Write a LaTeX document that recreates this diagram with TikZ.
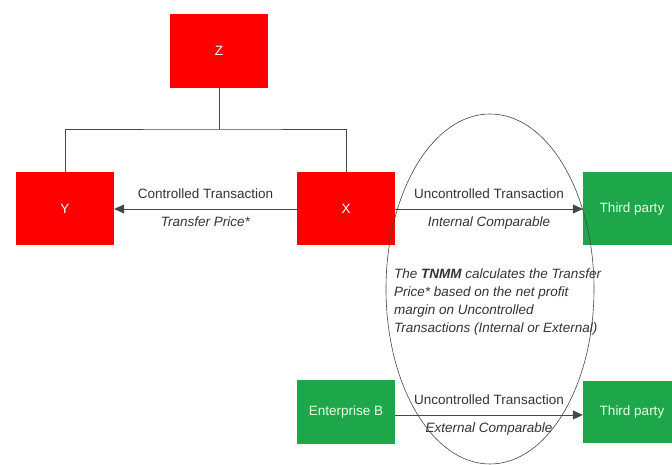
\documentclass[tikz,border=0pt]{standalone}
\usepackage{fontspec}
\setmainfont{Liberation Sans}
\usetikzlibrary{positioning,arrows.meta}
\definecolor{boxred}{RGB}{255,0,0}
\definecolor{boxgreen}{RGB}{30,166,74}
\definecolor{linegray}{RGB}{70,70,70}
\tikzset{x=1pt, y=1pt,
  company/.style={fill=boxred, text=white, minimum width=98pt, minimum height=74pt, inner sep=0pt},
  outsider/.style={fill=boxgreen, text=white!90!green, minimum width=98pt, minimum height=64pt, inner sep=0pt},
  link/.style={draw=linegray, line width=0.8pt},
  deal/.style={link, -{Triangle[length=10pt,width=9pt]}},
  lbl/.style={font=\fontsize{13.5}{16}\selectfont, text=black!80}}

\begin{document}
\begin{tikzpicture}[font=\fontsize{13.5}{16}\selectfont]
\useasboundingbox (0,0) rectangle (672,465);
\node[company] (z) at (219,414) {Z};
\node[company, minimum height=73pt] (y) at (65,256) {Y};
\node[company, minimum height=73pt] (x) at (346,256) {X};
\node[outsider, minimum height=73pt] (tp1) at (632,256) {Third party};
\node[outsider] (eb) at (346,53) {Enterprise B};
\node[outsider, minimum height=62pt] (tp2) at (632,53) {Third party};
\coordinate (bus) at (219,336);
\coordinate (oval) at (490,176);
% ownership lines
\draw[link] (z) -- (bus);
\draw[link] (y) |- (bus) -| (x);
% transactions
\draw[deal] (x) -- node[lbl, above=7pt] {Controlled Transaction}
  node[lbl, below=4pt] {\textit{Transfer Price*}} (y);
\draw[deal] (x) -- node[lbl, above=7pt] {Uncontrolled Transaction}
  node[lbl, below=4pt] {\textit{Internal Comparable}} (tp1);
\draw[deal] ([yshift=-3pt]eb.east) -- node[lbl, above=7pt] {Uncontrolled Transaction}
  node[lbl, below=4pt] {\textit{External Comparable}} ([yshift=-3pt]tp2.west);
\draw[link, line width=0.6pt] (oval) ellipse [x radius=104, y radius=175];
\node[lbl, font=\fontsize{13.5}{18}\selectfont\itshape, anchor=north west,
  align=left, inner sep=0pt] (tnmm) at (394,196)
  {The \textbf{TNMM} calculates the Transfer\\
   Price* based on the net profit\\
   margin on Uncontrolled\\
   Transactions (Internal or External)};
\end{tikzpicture}
\end{document}
